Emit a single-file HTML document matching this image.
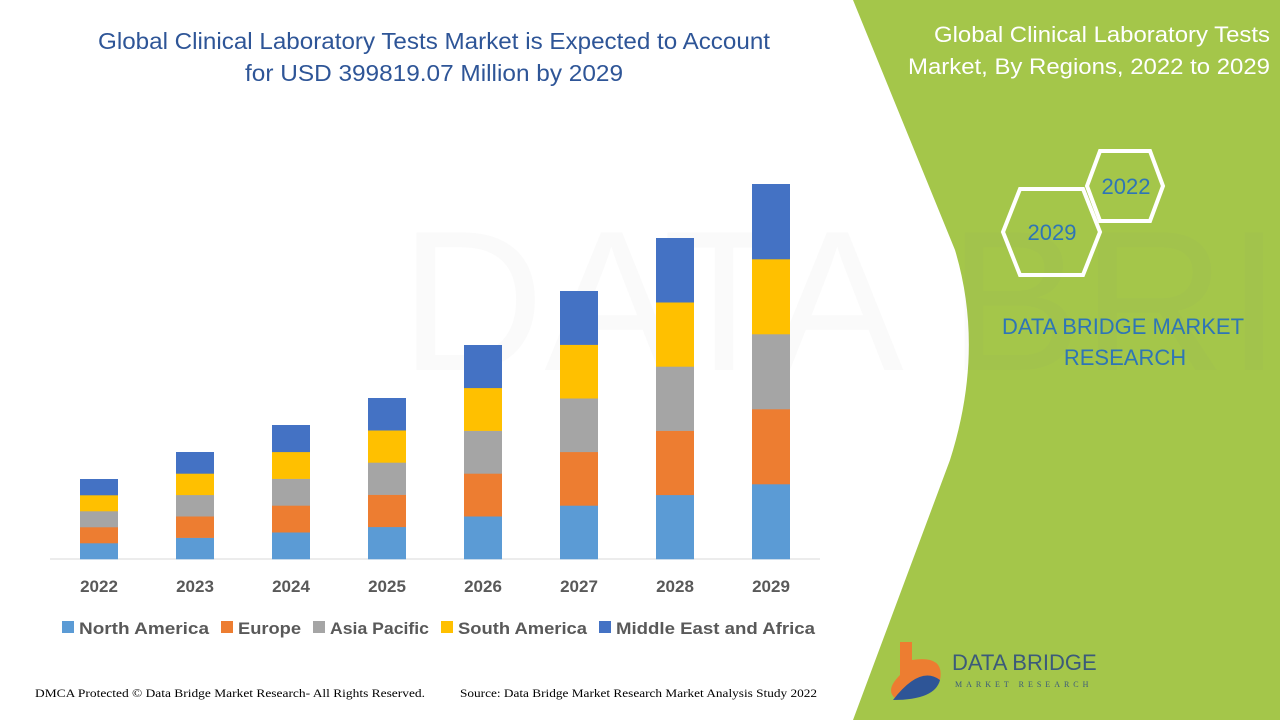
<!DOCTYPE html>
<html><head><meta charset="utf-8"><style>
body{margin:0;width:1280px;height:720px;overflow:hidden;background:#fff;font-family:"Liberation Sans",sans-serif;position:relative}
</style></head><body>
<svg width="1280" height="720" style="position:absolute;left:0;top:0">
<path d="M853,0 L1280,0 L1280,720 L853,720 L950,460 Q985,350 955,250 Z" fill="#a4c64a"/>
<g opacity="0.035" fill="#888"><text x="400" y="370" font-size="200" font-family="Liberation Sans">DATA BRIDGE</text></g>
<line x1="50" y1="559" x2="820" y2="559" stroke="#d9d9d9"/>
<g id="bars"></g>
<g font-family="Liberation Sans" font-weight="bold" font-size="17" fill="#595959" text-anchor="middle">
<text x="99" y="592">2022</text><text x="195" y="592">2023</text><text x="291" y="592">2024</text><text x="387" y="592">2025</text><text x="483" y="592">2026</text><text x="579" y="592">2027</text><text x="675" y="592">2028</text><text x="771" y="592">2029</text>
</g>
<g font-family="Liberation Sans" font-weight="bold" font-size="17" fill="#595959">
<rect x="62" y="621" width="12" height="12" fill="#5b9bd5"/><text x="79" y="634" textLength="130" lengthAdjust="spacingAndGlyphs">North America</text>
<rect x="221" y="621" width="12" height="12" fill="#ed7d31"/><text x="238" y="634" textLength="63" lengthAdjust="spacingAndGlyphs">Europe</text>
<rect x="313" y="621" width="12" height="12" fill="#a5a5a5"/><text x="330" y="634" textLength="99" lengthAdjust="spacingAndGlyphs">Asia Pacific</text>
<rect x="441" y="621" width="12" height="12" fill="#ffc000"/><text x="458" y="634" textLength="129" lengthAdjust="spacingAndGlyphs">South America</text>
<rect x="599" y="621" width="12" height="12" fill="#4472c4"/><text x="616" y="634" textLength="199" lengthAdjust="spacingAndGlyphs">Middle East and Africa</text>
</g>
<g font-family="Liberation Sans" font-size="23" fill="#2e5597" text-anchor="middle">
<text x="434" y="49" textLength="672" lengthAdjust="spacingAndGlyphs">Global Clinical Laboratory Tests Market is Expected to Account</text>
<text x="434" y="81" textLength="378" lengthAdjust="spacingAndGlyphs">for USD 399819.07 Million by 2029</text>
</g>
<g font-family="Liberation Sans" font-size="22" fill="#fff" text-anchor="end">
<text x="1270" y="42" textLength="336" lengthAdjust="spacingAndGlyphs">Global Clinical Laboratory Tests</text>
<text x="1270" y="74" textLength="362" lengthAdjust="spacingAndGlyphs">Market, By Regions, 2022 to 2029</text>
</g>
<polygon points="1100,151 1150,151 1163,186 1150,221 1100,221 1087,186" fill="none" stroke="#fff" stroke-width="4"/>
<polygon points="1020,189 1083,189 1100,232 1083,275 1020,275 1003,232" fill="none" stroke="#fff" stroke-width="4"/>
<g font-family="Liberation Sans" font-size="22" fill="#2e75b6" text-anchor="middle">
<text x="1126" y="194">2022</text><text x="1052" y="240">2029</text>
<text x="1123" y="334" textLength="242" lengthAdjust="spacingAndGlyphs">DATA BRIDGE MARKET</text><text x="1125" y="365">RESEARCH</text>
</g>
<path d="M900,642 L912,642 L912,660 Q945,655 940,680 Q930,700 895,698 Q885,690 900,675 Z" fill="#ed7d31"/>
<path d="M893,700 Q920,665 940,680 Q935,700 893,700 Z" fill="#2e5597"/>
<text x="952" y="670" font-family="Liberation Sans" font-size="22" fill="#3b5a7a">DATA BRIDGE</text>
<text x="955" y="687" font-family="Liberation Serif" font-size="8" letter-spacing="4" fill="#3b5a7a">MARKET RESEARCH</text>
<text x="35" y="697" font-family="Liberation Serif" font-size="12" fill="#000" textLength="390" lengthAdjust="spacingAndGlyphs">DMCA Protected © Data Bridge Market Research- All Rights Reserved.</text>
<text x="460" y="697" font-family="Liberation Serif" font-size="12" fill="#000" textLength="357" lengthAdjust="spacingAndGlyphs">Source: Data Bridge Market Research Market Analysis Study 2022</text>
</svg>
<script>
var c=["#5b9bd5","#ed7d31","#a5a5a5","#ffc000","#4472c4"];
var tops=[479,452,425,398,345,291,238,184];var s="";
tops.forEach(function(t,i){var x=80+96*i,h=(559-t)/5;for(var k=0;k<5;k++){s+='<rect x="'+x+'" y="'+(559-h*(k+1))+'" width="38" height="'+(h+0.3)+'" fill="'+c[k]+'"/>';}});
document.getElementById("bars").innerHTML=s;
</script>
</body></html>
